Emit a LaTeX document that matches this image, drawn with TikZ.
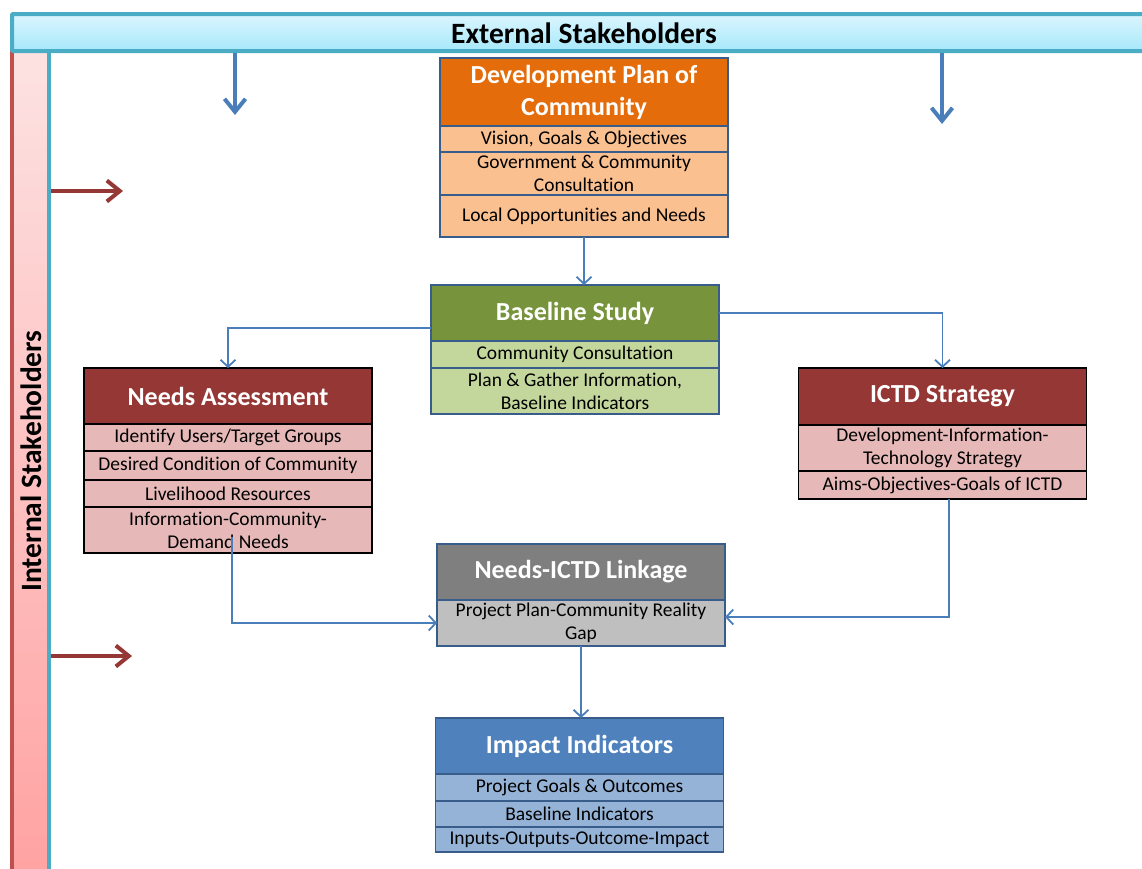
\documentclass[tikz,border=0pt]{standalone}
\usepackage{fontspec}
\setmainfont{Carlito}[Ligatures=NoCommon]
\usepackage{tikz}
\usetikzlibrary{positioning}
\usetikzlibrary{arrows.meta}

\definecolor{tealbar}{HTML}{4BACC6}
\definecolor{extTop}{HTML}{DCF6FE}
\definecolor{extBot}{HTML}{A6E8FB}
\definecolor{intTop}{HTML}{FDE2E2}
\definecolor{intBot}{HTML}{FFA2A2}
\definecolor{redbar}{HTML}{C0504D}
\definecolor{arrowblue}{HTML}{4A7EBB}
\definecolor{arrowred}{HTML}{953735}
\definecolor{boxblue}{HTML}{385D8A}
\definecolor{orangeHead}{HTML}{E46C0A}
\definecolor{orangeRow}{HTML}{FAC090}
\definecolor{greenHead}{HTML}{77933C}
\definecolor{greenRow}{HTML}{C3D69B}
\definecolor{redHead}{HTML}{953735}
\definecolor{redRow}{HTML}{E6B9B8}
\definecolor{grayHead}{HTML}{7F7F7F}
\definecolor{grayRow}{HTML}{BFBFBF}
\definecolor{blueHead}{HTML}{4F81BD}
\definecolor{blueRow}{HTML}{95B3D7}

\begin{document}
\begin{tikzpicture}[x=1pt,y=-1pt,
    box/.style={draw=boxblue, line width=1.3pt, rectangle, minimum width=288pt,
        inner sep=0pt, outer sep=0pt, align=center},
    head/.style={box, text=white, minimum height=56pt,
        font=\bfseries\fontsize{26}{32}\selectfont},
    row/.style={box, text=black, font=\fontsize{19.5}{23}\selectfont},
    link/.style={arrowblue, line width=1.8pt, -{Straight Barb[length=7pt,width=15pt]}},
    extarrow/.style={arrowblue, line width=4pt, -{Straight Barb[length=13pt,width=21pt]}},
    intarrow/.style={arrowred, line width=4pt, -{Straight Barb[length=13pt,width=21pt]}},
    barlabel/.style={font=\bfseries\fontsize{29.5}{32}\selectfont}]

    \useasboundingbox[fill=white] (0,0) rectangle (1142,868);

    % stakeholder bars
    \shade[top color=intTop, bottom color=intBot] (12,50) rectangle (49,880);
    \draw[redbar, line width=4pt] (49,50) -- (12,50) -- (12,880);
    \shade[top color=extTop, bottom color=extBot] (12,14) rectangle (1150,51);
    \draw[tealbar, line width=4pt, rounded corners=1pt] (1150,14) -- (12,14) -- (12,51) -- (1150,51);
    \draw[tealbar, line width=4pt] (49,51) -- (49,880);

    \node[barlabel] (ext) at (584,33) {External Stakeholders};
    \node[barlabel, rotate=90] (int) at (31,461) {Internal Stakeholders};

    \draw[extarrow] (235,53) -- (235,115);
    \draw[extarrow] (942,53) -- (942,124);
    \draw[intarrow] (51,191) -- (123,191);
    \draw[intarrow] (51,656) -- (132,656);

    % development plan
    \node[head, fill=orangeHead, minimum height=68pt] (dp) at (584,92) {Development Plan of\\Community};
    \node[row, fill=orangeRow, minimum height=26pt, below=0pt of dp] (dp1) {Vision, Goals \& Objectives};
    \node[row, fill=orangeRow, minimum height=43pt, below=0pt of dp1] (dp2) {Government \& Community\\Consultation};
    \node[row, fill=orangeRow, minimum height=42pt, below=0pt of dp2] (dp3) {Local Opportunities and Needs};

    % baseline study
    \node[head, fill=greenHead] (bs) at (575,313) {Baseline Study};
    \node[row, fill=greenRow, minimum height=27pt, below=0pt of bs] (bs1) {Community Consultation};
    \node[row, fill=greenRow, minimum height=46pt, below=0pt of bs1] (bs2) {Plan \& Gather Information,\\Baseline Indicators};

    % needs assessment
    \node[head, draw=black, fill=redHead] (na) at (228,396) {Needs Assessment};
    \node[row, draw=black, fill=redRow, minimum height=27pt, below=0pt of na] (na1) {Identify Users/Target Groups};
    \node[row, draw=black, fill=redRow, minimum height=29pt, below=0pt of na1] (na2) {Desired Condition of Community};
    \node[row, draw=black, fill=redRow, minimum height=27pt, below=0pt of na2] (na3) {Livelihood Resources};
    \node[row, draw=black, fill=redRow, minimum height=46pt, below=0pt of na3] (na4) {Information-Community-\\Demand Needs};

    % ictd strategy
    \node[head, draw=black, fill=redHead, minimum height=57pt] (ict) at (942.5,396.5) {ICTD Strategy};
    \node[row, draw=black, fill=redRow, minimum height=46pt, below=0pt of ict] (ict1) {Development-Information-\\Technology Strategy};
    \node[row, draw=black, fill=redRow, minimum height=28pt, below=0pt of ict1] (ict2) {Aims-Objectives-Goals of ICTD};

    % linkage
    \node[head, fill=grayHead] (lk) at (581,572) {Needs-ICTD Linkage};
    \node[row, fill=grayRow, minimum height=46pt, below=0pt of lk] (lk1) {Project Plan-Community Reality\\Gap};

    % impact indicators
    \node[head, fill=blueHead] (ii) at (579.5,746) {Impact Indicators};
    \node[row, fill=blueRow, minimum height=27pt, below=0pt of ii] (ii1) {Project Goals \& Outcomes};
    \node[row, fill=blueRow, minimum height=26pt, below=0pt of ii1] (ii2) {Baseline Indicators};
    \node[row, fill=blueRow, minimum height=25pt, below=0pt of ii2] (ii3) {Inputs-Outputs-Outcome-Impact};

    % connectors
    \draw[link] (dp3.south) -- (dp3.south |- bs.north);
    \draw[link] ([yshift=-15pt]bs.west) -| (na.north);
    \draw[link] (bs.east) -| (ict.north);
    \draw[link] ([xshift=4pt,yshift=-7pt]na4.center) |- (lk1.west);
    \draw[link] ([xshift=6.5pt]ict2.south) |- ([yshift=6pt]lk1.east);
    \draw[link] (lk1.south) -- (lk1.south |- ii.north);
\end{tikzpicture}
\end{document}
